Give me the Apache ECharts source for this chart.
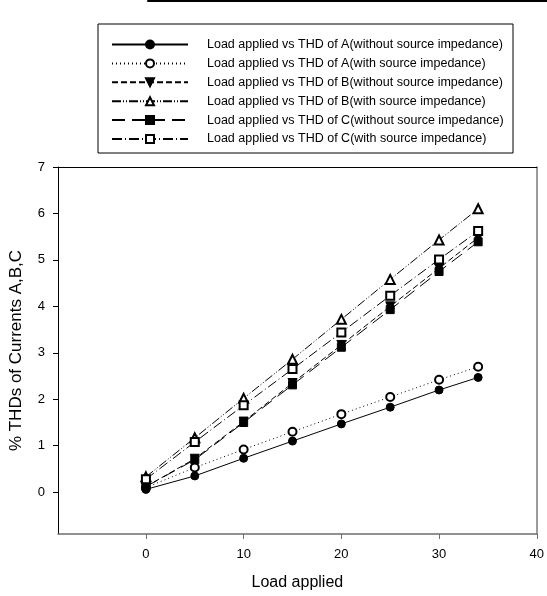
<!DOCTYPE html>
<html>
<head>
<meta charset="utf-8">
<script src="https://cdn.jsdelivr.net/npm/echarts@6/dist/echarts.min.js"></script>
<style>
  html, body { margin: 0; padding: 0; background: #fff; }
  #chart { width: 547px; height: 596px; }
</style>
</head>
<body>
<div id="chart"></div>
<script>
// Load steps (x) and THD readings (%) per phase
const loadApplied = [0, 5, 10, 15, 20, 25, 30, 34];
const thdA_noSource = [0.06, 0.35, 0.73, 1.10, 1.47, 1.83, 2.20, 2.47];
const thdA_source   = [0.10, 0.53, 0.92, 1.30, 1.68, 2.05, 2.42, 2.70];
const thdB_noSource = [0.12, 0.72, 1.52, 2.35, 3.17, 4.00, 4.82, 5.48];
const thdB_source   = [0.33, 1.17, 2.02, 2.86, 3.72, 4.58, 5.43, 6.10];
const thdC_noSource = [0.12, 0.70, 1.50, 2.31, 3.12, 3.93, 4.75, 5.39];
const thdC_source   = [0.28, 1.08, 1.87, 2.65, 3.44, 4.23, 5.01, 5.62];

const seriesNames = [
  'Load applied vs THD of A(without source impedance)',
  'Load applied vs THD of A(with source impedance)',
  'Load applied vs THD of B(without source impedance)',
  'Load applied vs THD of B(with source impedance)',
  'Load applied vs THD of C(without source impedance)',
  'Load applied vs THD of C(with source impedance)'
];

const xTickValues = [0, 10, 20, 30, 40];
const yTickValues = [0, 1, 2, 3, 4, 5, 6, 7];

const FONT = '"Liberation Sans", Arial, sans-serif';

function pairs(ys) {
  return loadApplied.map((x, i) => [x, ys[i]]);
}

function makeSeries(name, ys, symbol, dash, size, rotate) {
  return {
    name: name,
    type: 'line',
    xAxisIndex: 0,
    yAxisIndex: 0,
    data: pairs(ys),
    symbol: symbol,
    symbolSize: size,
    symbolRotate: rotate || 0,
    showSymbol: true,
    lineStyle: { color: '#000', width: 1, type: dash },
    itemStyle: { color: '#000', borderColor: '#000', borderWidth: 1 },
    emphasis: { disabled: true }
  };
}

const chart = echarts.init(document.getElementById('chart'), null, { renderer: 'canvas' });

const option = {
  animation: false,
  backgroundColor: '#fff',
  textStyle: { fontFamily: FONT },
  grid: { left: 58, top: 167, right: 7, bottom: 59, containLabel: false },
  legend: {
    orient: 'vertical',
    left: 111,
    top: 38,
    padding: 0,
    itemWidth: 76,
    itemHeight: 10,
    itemGap: 5.9,
    data: seriesNames,
    selectedMode: false,
    textStyle: { fontFamily: FONT, fontSize: 12.5, color: '#000', padding: [0, 0, 0, 14] }
  },
  graphic: [
    // legend frame
    { type: 'rect', shape: { x: 98, y: 24, width: 415, height: 129 },
      style: { fill: 'none', stroke: '#000', lineWidth: 1 }, z: 10 },
    // ruled table edge along the top
    { type: 'line', shape: { x1: 148, y1: 1, x2: 547, y2: 1 }, style: { stroke: '#000', lineWidth: 2 } },
    { type: 'line', shape: { x1: 148, y1: 0, x2: 148, y2: 2 }, style: { stroke: '#000', lineWidth: 1.5 } },
    { type: 'line', shape: { x1: 255, y1: 0, x2: 255, y2: 2 }, style: { stroke: '#000', lineWidth: 1.5 } },
    { type: 'line', shape: { x1: 378, y1: 0, x2: 378, y2: 2 }, style: { stroke: '#000', lineWidth: 1.5 } },
    { type: 'line', shape: { x1: 505, y1: 0, x2: 505, y2: 2 }, style: { stroke: '#000', lineWidth: 1.5 } }
  ],
  xAxis: [
    {
      type: 'value',
      position: 'bottom',
      min: -9,
      max: 40,
      name: 'Load applied',
      nameLocation: 'middle',
      nameGap: 41,
      nameTextStyle: { fontFamily: FONT, fontSize: 16, color: '#000' },
      axisLine: { show: true, onZero: false, lineStyle: { color: '#6e6e6e', width: 1.5 } },
      axisTick: { show: true, length: 5, lineStyle: { color: '#6e6e6e' }, customValues: xTickValues },
      axisLabel: { fontFamily: FONT, fontSize: 13, color: '#000', margin: 14, customValues: xTickValues },
      splitLine: { show: false }
    },
    {
      type: 'value',
      position: 'top',
      min: -9,
      max: 40,
      axisLine: { show: true, onZero: false, lineStyle: { color: '#000', width: 1 } },
      axisTick: { show: false },
      axisLabel: { show: false },
      splitLine: { show: false }
    }
  ],
  yAxis: [
    {
      type: 'value',
      position: 'left',
      min: -0.9,
      max: 7,
      name: '% THDs of Currents A,B,C',
      nameLocation: 'middle',
      nameGap: 33,
      nameTextStyle: { fontFamily: FONT, fontSize: 17, color: '#000' },
      axisLine: { show: true, onZero: false, lineStyle: { color: '#000', width: 1 } },
      axisTick: { show: true, length: 5, lineStyle: { color: '#000' }, customValues: yTickValues },
      axisLabel: { fontFamily: FONT, fontSize: 13, color: '#000', margin: 13, customValues: yTickValues },
      splitLine: { show: false }
    },
    {
      type: 'value',
      position: 'right',
      min: -0.9,
      max: 7,
      axisLine: { show: true, onZero: false, lineStyle: { color: '#7a7a7a', width: 1.5 } },
      axisTick: { show: false },
      axisLabel: { show: false },
      splitLine: { show: false }
    }
  ],
  series: [
    makeSeries(seriesNames[0], thdA_noSource, 'circle', 'solid', 8),
    makeSeries(seriesNames[1], thdA_source, 'emptyCircle', [1, 3], 8),
    makeSeries(seriesNames[2], thdB_noSource, 'triangle', [6, 3], 9, 180),
    makeSeries(seriesNames[3], thdB_source, 'emptyTriangle', [9, 2, 1, 2, 1, 2], 9),
    makeSeries(seriesNames[4], thdC_noSource, 'rect', [13, 7], 8),
    makeSeries(seriesNames[5], thdC_source, 'emptyRect', [10, 3, 1, 3], 8)
  ]
};

chart.setOption(option);
</script>
</body>
</html>
